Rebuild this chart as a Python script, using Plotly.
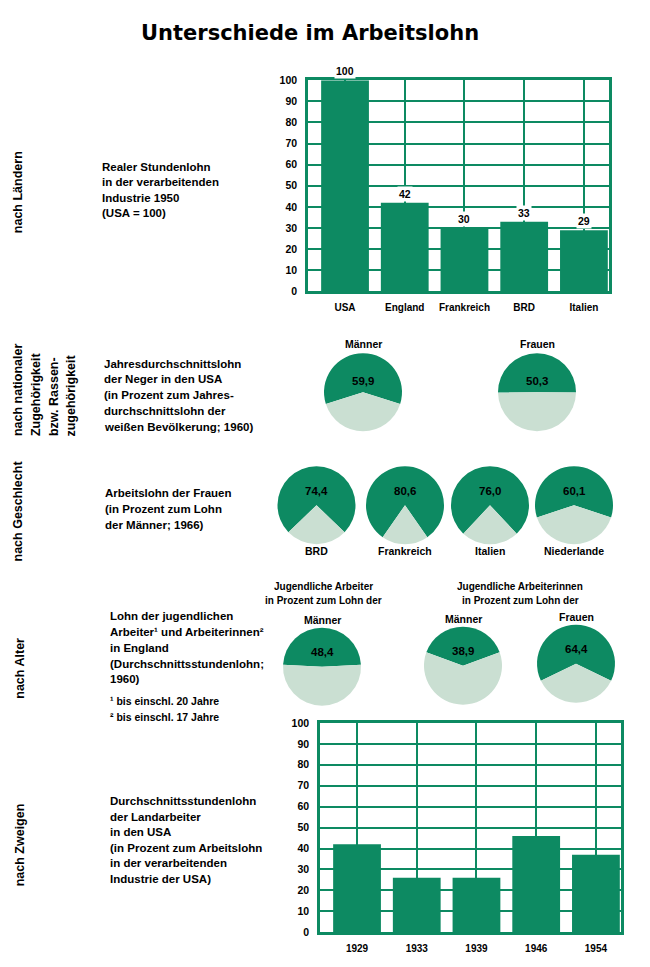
import plotly.graph_objects as go

# page body has an 8px default margin: size the figure to fit inside it
PAGE_W, PAGE_H = 650, 967
M = 8
W, H = PAGE_W - 2 * M, PAGE_H - 2 * M
GREEN = "#0d8a62"
LIGHT = "#cadfd2"
FONT = "Liberation Sans, Arial, sans-serif"
TEXTFONT = "Liberation Sans, Arial, sans-serif"

title = "Unterschiede im Arbeitslohn"

# --- data -------------------------------------------------------------
countries = ["USA", "England", "Frankreich", "BRD", "Italien"]
wage_index_1950 = [100, 42, 30, 33, 29]

years = ["1929", "1933", "1939", "1946", "1954"]
farm_wage_pct = [42, 26, 26, 46, 37]

y_ticks = list(range(0, 101, 10))

race_groups = ["Männer", "Frauen"]
race_pct = [59.9, 50.3]

sex_countries = ["BRD", "Frankreich", "Italien", "Niederlande"]
sex_pct = [74.4, 80.6, 76.0, 60.1]

youth_groups = ["Männer", "Männer", "Frauen"]
youth_pct = [48.4, 38.9, 64.4]
youth_headers = [["Jugendliche Arbeiter", "in Prozent zum Lohn der"],
                 ["Jugendliche Arbeiterinnen", "in Prozent zum Lohn der"]]

side_labels = ["nach Ländern", "nach nationaler", "Zugehörigkeit", "bzw. Rassen-",
               "zugehörigkeit", "nach Geschlecht", "nach Alter", "nach Zweigen"]

block_countries = ["Realer Stundenlohn", "in der verarbeitenden", "Industrie 1950", "(USA = 100)"]
block_race = ["Jahresdurchschnittslohn", "der Neger in den USA", "(in Prozent zum Jahres-",
              "durchschnittslohn der", "weißen Bevölkerung; 1960)"]
block_sex = ["Arbeitslohn der Frauen", "(in Prozent zum Lohn", "der Männer; 1966)"]
block_age = ["Lohn der jugendlichen", "Arbeiter¹ und Arbeiterinnen²", "in England",
             "(Durchschnittsstundenlohn;", "1960)"]
footnotes = ["¹ bis einschl. 20 Jahre", "² bis einschl. 17 Jahre"]
block_branch = ["Durchschnittsstundenlohn", "der Landarbeiter", "in den USA",
                "(in Prozent zum Arbeitslohn", "in der verarbeitenden", "Industrie der USA)"]


def px(x):
    return (x - M) / W


def py(y):
    return 1 - (y - M) / H


def de(v):
    return f"{v:.1f}".replace(".", ",")


fig = go.Figure()
ann = []


def text(x, y, s, size=11, weight="normal", xanchor="left", yanchor="middle",
         angle=0, family=FONT):
    ann.append(dict(x=px(x), y=py(y), xref="paper", yref="paper", text=s,
                    showarrow=False, xanchor=xanchor, yanchor=yanchor, textangle=angle,
                    font=dict(family=family, size=size, color="black", weight=weight)))


def pie(cx, cy, v, r=39.5):
    fig.add_trace(go.Pie(values=[v, 100 - v], sort=False, direction="clockwise",
                         rotation=-v * 1.8,
                         marker=dict(colors=[GREEN, LIGHT], line=dict(width=0)),
                         textinfo="none", hoverinfo="skip", showlegend=False,
                         domain=dict(x=[px(cx - r), px(cx + r)], y=[py(cy + r), py(cy - r)])))


# --- bar charts ---------------------------------------------------------
fig.add_trace(go.Bar(x=countries, y=wage_index_1950, marker=dict(color=GREEN, line=dict(width=0)),
                     xaxis="x", yaxis="y", hoverinfo="skip"))
fig.add_trace(go.Bar(x=years, y=farm_wage_pct, marker=dict(color=GREEN, line=dict(width=0)),
                     xaxis="x2", yaxis="y2", hoverinfo="skip"))

for xr, yr, cats, vals in (("x", "y", countries, wage_index_1950), ("x2", "y2", years, farm_wage_pct)):
    for c, v in zip(cats, vals):
        ann.append(dict(x=c, y=v, xref=xr, yref=yr, text=str(v), showarrow=False,
                        yanchor="bottom", yshift=1, bgcolor="white", borderpad=1,
                        font=dict(family=FONT, size=10.5, color="black", weight="bold")))

axis_common = dict(showgrid=True, gridcolor=GREEN, gridwidth=2, showline=True, mirror=True,
                   linecolor=GREEN, linewidth=2.5, zeroline=False, fixedrange=True)
xcommon = dict(axis_common, type="category", range=[-0.62, 4.42], ticks="outside", ticklen=5,
               tickcolor="rgba(0,0,0,0)",
               tickfont=dict(family=FONT, size=10, color="black", weight="bold"))
ycommon = dict(axis_common, range=[0, 100], tickvals=y_ticks, ticks="outside", ticklen=6,
               tickcolor="rgba(0,0,0,0)",
               tickfont=dict(family=FONT, size=10.5, color="black", weight="bold"))

# --- pies -----------------------------------------------------------------
race_centers = [(363, 391), (537, 391)]
for (cx, cy), g, v in zip(race_centers, race_groups, race_pct):
    pie(cx, cy, v)
    text(cx, 342, g, size=10.5, weight="bold", xanchor="center")
    text(cx, 380, de(v), size=11.5, weight="bold", xanchor="center")

sex_centers = [(316.5, 505.5), (405, 505.5), (490, 505.5), (574, 505.5)]
for (cx, cy), g, v in zip(sex_centers, sex_countries, sex_pct):
    pie(cx, cy, v)
    text(cx, 552, g, size=10.5, weight="bold", xanchor="center")
    text(cx, 491, de(v), size=11.5, weight="bold", xanchor="center")

youth_centers = [(322, 669), (463, 668), (576, 666)]
youth_label_y = [622, 621, 619]
for (cx, cy), ly, g, v in zip(youth_centers, youth_label_y, youth_groups, youth_pct):
    pie(cx, cy, v)
    text(cx, ly, g, size=10.5, weight="bold", xanchor="center")
    text(cx, cy - 15, de(v), size=11.5, weight="bold", xanchor="center")

for hx, lines in zip([323, 520], youth_headers):
    text(hx, 588, lines[0], size=10, weight="bold", xanchor="center")
    text(hx, 602, lines[1], size=10, weight="bold", xanchor="center")

# --- texts ----------------------------------------------------------------
text(310, 27, title, size=21, weight="bold", xanchor="center", family="DejaVu Sans, sans-serif")

side_pos = [(18, 232), (18, 438), (36, 438), (54, 438), (71, 438), (18, 565), (20, 704), (20, 894)]
for (x, y), s in zip(side_pos, side_labels):
    text(x, y, s, size=12.5, weight="bold", xanchor="center", yanchor="bottom", angle=-90)


def block(lines, x, y0, dy, size=11.5):
    for i, s in enumerate(lines):
        text(x, y0 + i * dy, s, size=size, weight="bold", family=TEXTFONT)


block(block_countries, 100, 163, 15.6)
block(block_race, 102, 362, 16)
block(block_sex, 103, 493, 16.5)
block(block_age, 108, 618, 16)
block(footnotes, 108, 704, 16, size=10.5)
block(block_branch, 108, 805, 15.8)

fig.update_layout(
    width=W, height=H, margin=dict(l=0, r=0, t=0, b=0),
    paper_bgcolor="white", plot_bgcolor="white", showlegend=False, bargap=0.2,
    xaxis=dict(xcommon, domain=[px(308), px(609)], anchor="y"),
    yaxis=dict(ycommon, domain=[py(289), py(75)], anchor="x"),
    xaxis2=dict(xcommon, domain=[px(320), px(621)], anchor="y2"),
    yaxis2=dict(ycommon, domain=[py(938), py(726)], anchor="x2"),
    annotations=ann,
)

fig.write_html("out.html")
